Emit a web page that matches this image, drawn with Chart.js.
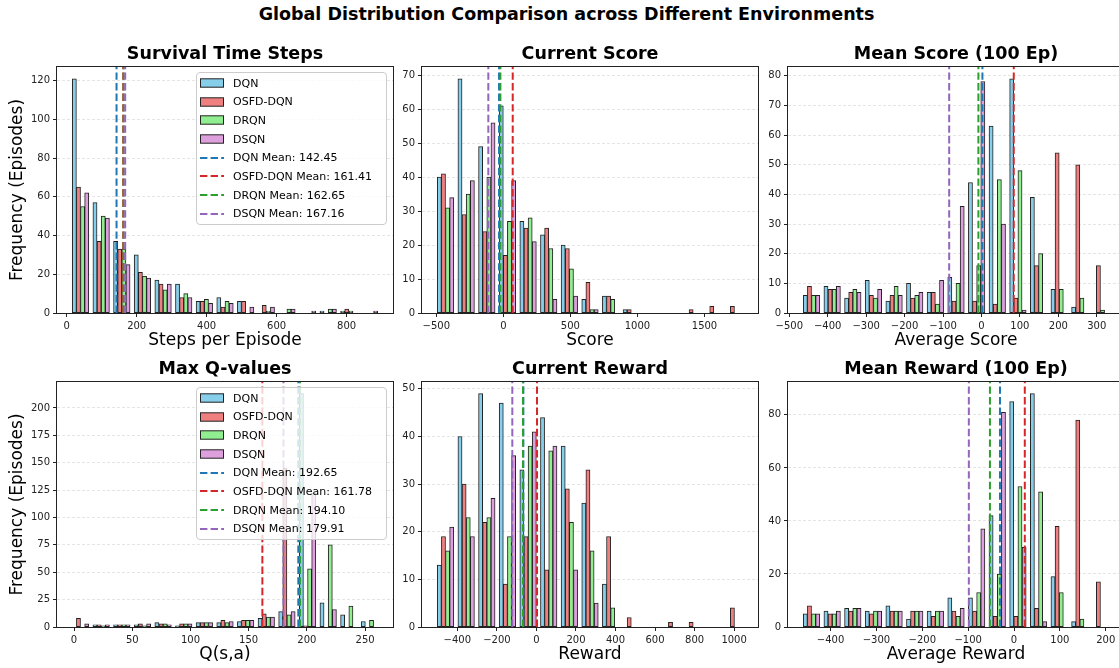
<!DOCTYPE html>
<html>
<head>
<meta charset="utf-8">
<script src="https://cdn.jsdelivr.net/npm/chart.js@4.4.1/dist/chart.umd.min.js"></script>
<style>
  html, body { margin: 0; padding: 0; background: #fff; overflow: hidden; }
  body { width: 1119px; height: 668px; position: relative; font-family: 'DejaVu Sans', sans-serif; }
  canvas { position: absolute; }
  .suptitle { position: absolute; left: 0; width: 1133px; top: 4px; line-height: 20px; text-align: center; font-weight: bold; font-size: 17.5px; color: #000; }
  .legend { position: absolute; box-sizing: border-box; width: 191px; height: 153px; background: rgba(255,255,255,0.8); border: 1px solid #ccc; border-radius: 4px; font-size: 11px; color: #000; }
  .legend .row { position: absolute; left: 3px; height: 18px; display: flex; align-items: center; white-space: nowrap; }
  .legend svg { margin-right: 9px; }
</style>
</head>
<body>
<div class="suptitle">Global Distribution Comparison across Different Environments</div>
<script>
// --- DATA ---
const methods = ['DQN', 'OSFD-DQN', 'DRQN', 'DSQN'];

// [first bin edge, bin width], 15 bins each
const survivalBins = [10, 59];
const survivalDQN  = [121, 57, 37, 30, 17, 15, 6, 8, 6, 0, 0, 0, 1, 1, 0];
const survivalOSFD = [65, 37, 33, 21, 15, 8, 6, 3, 6, 4, 0, 0, 0, 2, 0];
const survivalDRQN = [55, 50, 33, 19, 12, 10, 7, 6, 0, 1, 2, 0, 2, 1, 0];
const survivalDSQN = [62, 49, 25, 18, 15, 8, 5, 5, 3, 3, 2, 1, 2, 0, 1];
const survivalMeans = [142.45, 161.41, 162.65, 167.16];

const scoreBins = [-508, 153.9];
const scoreDQN  = [40, 69, 49, 61, 27, 23, 20, 4, 5, 1, 0, 0, 0, 0, 0];
const scoreOSFD = [41, 29, 24, 17, 25, 25, 19, 9, 5, 1, 0, 0, 1, 2, 2];
const scoreDRQN = [31, 35, 40, 27, 28, 19, 13, 1, 4, 0, 0, 0, 0, 0, 0];
const scoreDSQN = [34, 39, 56, 39, 21, 4, 5, 1, 0, 0, 0, 0, 0, 0, 0];
const scoreMeans = [-32, 70, -22, -112];

const meanScoreBins = [-469, 53.7];
const meanScoreDQN  = [6, 9, 5, 11, 4, 10, 7, 12, 44, 63, 79, 39, 8, 2, 0];
const meanScoreOSFD = [9, 8, 7, 6, 6, 5, 7, 4, 4, 3, 5, 16, 54, 50, 16];
const meanScoreDRQN = [6, 8, 8, 5, 9, 6, 3, 10, 16, 45, 48, 20, 8, 5, 1];
const meanScoreDSQN = [6, 9, 7, 8, 6, 7, 11, 36, 78, 30, 1, 0, 0, 0, 0];
const meanScoreMeans = [2.5, 84, -8, -84];

const qBins = [-3.3, 17.73];
const qDQN  = [0, 2, 2, 2, 4, 1, 4, 4, 5, 8, 14, 213, 22, 11, 5];
const qOSFD = [8, 2, 2, 3, 3, 3, 4, 6, 6, 12, 145, 1, 0, 0, 0];
const qDRQN = [0, 1, 2, 1, 3, 3, 4, 4, 6, 9, 11, 53, 75, 19, 6];
const qDSQN = [3, 2, 2, 3, 2, 3, 4, 5, 6, 9, 14, 122, 16, 0, 0];
const qMeans = [192.65, 161.78, 194.10, 179.91];

const rewardBins = [-512, 104.4];
const rewardDQN  = [13, 40, 49, 47, 33, 44, 38, 26, 9, 0, 0, 0, 0, 0, 0];
const rewardOSFD = [19, 30, 22, 9, 19, 12, 29, 33, 19, 2, 0, 1, 1, 0, 4];
const rewardDRQN = [16, 23, 23, 19, 38, 37, 22, 16, 4, 0, 0, 0, 0, 0, 0];
const rewardDSQN = [21, 19, 27, 36, 41, 38, 12, 5, 0, 0, 0, 0, 0, 0, 0];
const rewardMeans = [-66, 3, -68, -122];

const meanRewardBins = [-464, 45];
const meanRewardDQN  = [5, 6, 7, 6, 8, 3, 6, 11, 11, 42, 85, 88, 19, 2, 0];
const meanRewardOSFD = [8, 5, 6, 5, 6, 6, 4, 6, 6, 4, 4, 7, 38, 78, 17];
const meanRewardDRQN = [5, 5, 7, 6, 6, 6, 6, 4, 13, 20, 53, 51, 13, 3, 0];
const meanRewardDSQN = [5, 6, 7, 6, 6, 6, 6, 7, 37, 81, 30, 2, 0, 0, 0];
const meanRewardMeans = [-30.6, 23.5, -52.5, -98.5];

// --- STYLE ---
const FONT = "'DejaVu Sans', sans-serif";
const barColors = ['#87CEEB', '#F08080', '#90EE90', '#DDA0DD'];
const meanColors = ['#1f77b4', '#d62728', '#2ca02c', '#9467bd'];
Chart.defaults.font.family = FONT;

const panels = [
  { title: 'Survival Time Steps', xLabel: 'Steps per Episode', bins: survivalBins,
    counts: [survivalDQN, survivalOSFD, survivalDRQN, survivalDSQN], means: survivalMeans,
    xStep: 200, yStep: 20, box: [57, 67, 336, 246], first: true, legend: true },
  { title: 'Current Score', xLabel: 'Score', bins: scoreBins,
    counts: [scoreDQN, scoreOSFD, scoreDRQN, scoreDSQN], means: scoreMeans,
    xStep: 500, yStep: 10, box: [422, 67, 336, 246] },
  { title: 'Mean Score (100 Ep)', xLabel: 'Average Score', bins: meanScoreBins,
    counts: [meanScoreDQN, meanScoreOSFD, meanScoreDRQN, meanScoreDSQN], means: meanScoreMeans,
    xStep: 100, yStep: 10, box: [788, 67, 336, 246] },
  { title: 'Max Q-values', xLabel: 'Q(s,a)', bins: qBins,
    counts: [qDQN, qOSFD, qDRQN, qDSQN], means: qMeans,
    xStep: 50, yStep: 25, box: [57, 382, 336, 245], first: true, legend: true },
  { title: 'Current Reward', xLabel: 'Reward', bins: rewardBins,
    counts: [rewardDQN, rewardOSFD, rewardDRQN, rewardDSQN], means: rewardMeans,
    xStep: 200, yStep: 10, box: [422, 382, 336, 245] },
  { title: 'Mean Reward (100 Ep)', xLabel: 'Average Reward', bins: meanRewardBins,
    counts: [meanRewardDQN, meanRewardOSFD, meanRewardDRQN, meanRewardDSQN], means: meanRewardMeans,
    xStep: 100, yStep: 20, box: [788, 382, 336, 245] }
];

const fmt = v => (v < 0 ? '\u2212' + Math.abs(v) : String(v));

// ticks on multiples of the step, inside the axis range
const stepTicks = step => scale => {
  const ticks = [];
  for (let v = Math.ceil(scale.min / step - 1e-9) * step; v <= scale.max + 1e-9; v += step) {
    ticks.push({ value: Math.round(v * 1e6) / 1e6 });
  }
  scale.ticks = ticks;
};

// axes frame (all four spines)
const framePlugin = {
  id: 'frame',
  afterDatasetsDraw(chart) {
    const { ctx, chartArea: a } = chart;
    ctx.save();
    ctx.strokeStyle = '#222';
    ctx.lineWidth = 1;
    ctx.strokeRect(Math.round(a.left) - 0.5, Math.round(a.top) - 0.5,
      Math.round(a.right - a.left) + 1, Math.round(a.bottom - a.top) + 1);
    ctx.restore();
  }
};

function makeLegend(p) {
  const [L, T] = p.box;
  const box = document.createElement('div');
  box.className = 'legend';
  box.style.left = (L + 139) + 'px';
  box.style.top = (T + 5) + 'px';
  const labels = methods.concat(p.means.map((m, j) => `${methods[j]} Mean: ${m.toFixed(2)}`));
  labels.forEach((text, k) => {
    const row = document.createElement('div');
    row.className = 'row';
    row.style.top = (1 + 18.67 * k) + 'px';
    let svg;
    if (k < 4) {
      svg = `<svg width="24" height="18"><rect x="0.5" y="4.8" width="23" height="8.4" fill="${barColors[k]}" stroke="#222" stroke-width="1"/></svg>`;
    } else {
      svg = `<svg width="24" height="18"><line x1="0" y1="9" x2="24" y2="9" stroke="${meanColors[k - 4]}" stroke-width="2" stroke-dasharray="7.4 3.2"/></svg>`;
    }
    row.innerHTML = svg + `<span>${text}</span>`;
    box.appendChild(row);
  });
  document.body.appendChild(box);
}

function makePanel(p) {
  const [L, T, W, H] = p.box;
  const lm = p.first ? L : 40, tm = 31, bm = 40, rm = 12;
  const canvas = document.createElement('canvas');
  canvas.width = W + lm + rm;
  canvas.height = H + tm + bm;
  canvas.style.left = (L - lm) + 'px';
  canvas.style.top = (T - tm) + 'px';
  document.body.appendChild(canvas);

  const [x0, w] = p.bins;
  const n = p.counts[0].length;
  const a = x0 + 0.1 * w, b = x0 + (n - 0.1) * w;
  const xMin = a - 0.05 * (b - a), xMax = b + 0.05 * (b - a);
  const yMax = 1.05 * Math.max(...p.counts.flat());

  const datasets = p.counts.map((arr, j) => ({
    type: 'bar',
    label: methods[j],
    data: arr.map((c, i) => ({ x: x0 + w * (i + 0.2 + 0.2 * j), y: c })),
    backgroundColor: barColors[j],
    borderColor: '#222',
    borderWidth: 1,
    borderSkipped: false,
    grouped: false,
    barPercentage: 1,
    categoryPercentage: 1,
    order: 10
  }));
  p.means.forEach((m, j) => datasets.push({
    type: 'line',
    label: `${methods[j]} Mean: ${m.toFixed(2)}`,
    data: [{ x: m, y: 0 }, { x: m, y: yMax }],
    borderColor: meanColors[j],
    borderWidth: 2,
    borderDash: [7.4, 3.2],
    pointRadius: 0,
    fill: false,
    order: 4 - j
  }));

  new Chart(canvas, {
    type: 'bar',
    data: { datasets },
    plugins: [framePlugin],
    options: {
      responsive: false,
      animation: false,
      events: [],
      layout: { padding: { left: 0, right: rm, top: 0, bottom: 0 } },
      plugins: {
        legend: { display: false },
        tooltip: { enabled: false },
        title: {
          display: true, text: p.title, fullSize: false, color: '#000',
          font: { family: FONT, size: 17.5, weight: 'bold', lineHeight: 1.2 },
          padding: { top: 8, bottom: 2 }
        }
      },
      scales: {
        x: {
          type: 'linear', min: xMin, max: xMax, offset: false,
          grid: { display: true, drawOnChartArea: false, drawTicks: true, tickLength: 4, tickColor: '#222', offset: false },
          border: { display: false },
          ticks: { autoSkip: false, maxRotation: 0, padding: 3,
                   color: '#222', font: { family: FONT, size: 10 }, callback: v => fmt(v) },
          afterBuildTicks: stepTicks(p.xStep),
          title: { display: true, text: p.xLabel, color: '#000', font: { family: FONT, size: 17, lineHeight: 1.2 },
                   padding: { top: 0, bottom: 2 } },
          afterFit: s => { s.height = bm; }
        },
        y: {
          type: 'linear', min: 0, max: yMax,
          grid: { color: 'rgba(0,0,0,0.13)', lineWidth: 0.8, tickLength: 4, tickColor: '#222', tickWidth: 1 },
          border: { display: false, dash: [3, 2] },
          ticks: { autoSkip: false, padding: 3, color: '#222', font: { family: FONT, size: 10 } },
          afterBuildTicks: stepTicks(p.yStep),
          title: { display: !!p.first, text: 'Frequency (Episodes)', color: '#000',
                   font: { family: FONT, size: 17, lineHeight: 1.2 }, padding: { top: 7.3, bottom: 0 } },
          afterFit: s => { s.width = lm; }
        }
      }
    }
  });
  if (p.legend) makeLegend(p);
}

panels.forEach(makePanel);
</script>
</body>
</html>
